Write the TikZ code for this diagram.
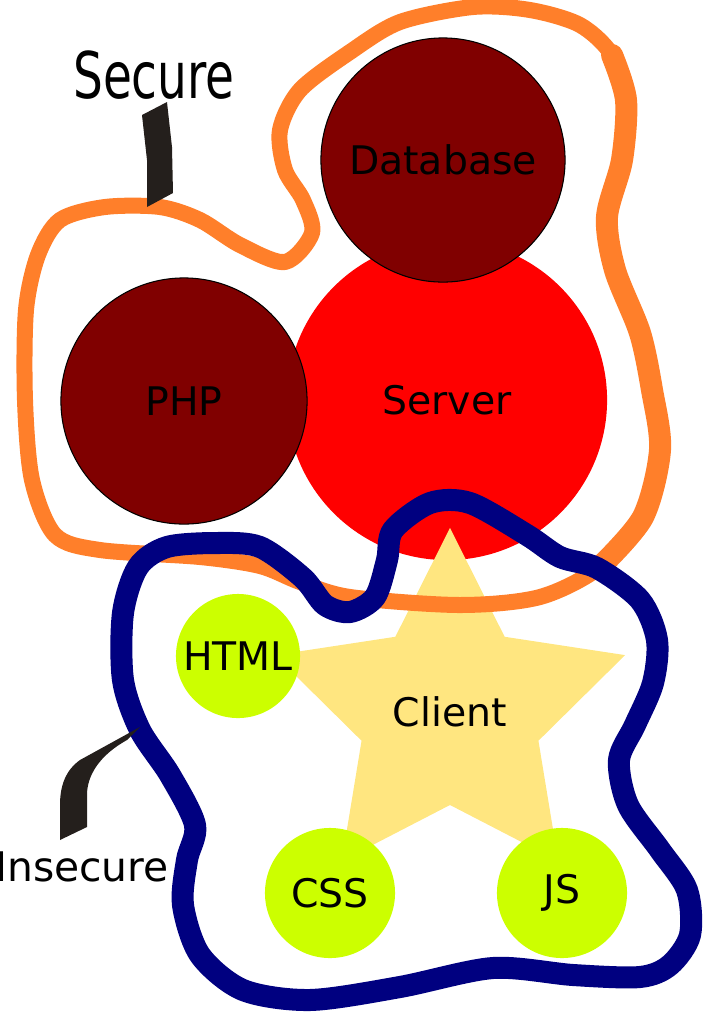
\documentclass[tikz,border=0pt]{standalone}
\usepackage{fontspec}
\setmainfont{DejaVu Sans}
\usepackage{tikz}
\usetikzlibrary{shapes.geometric}
\definecolor{secureorange}{RGB}{255,127,42}
\definecolor{insecureblue}{RGB}{0,0,128}
\definecolor{servered}{RGB}{255,0,0}
\definecolor{backend}{RGB}{128,0,0}
\definecolor{frontend}{RGB}{204,255,0}
\definecolor{clientstar}{RGB}{255,230,128}
\definecolor{pointerink}{RGB}{36,31,28}

\begin{document}
\begin{tikzpicture}[x=0.01cm,y=-0.01cm,
    every node/.style={font=\fontsize{11.2}{13}\selectfont,inner sep=0pt},
    backnode/.style={shape=circle,fill=backend,draw=black,line width=0.3pt,minimum size=2.44cm},
    frontnode/.style={shape=circle,fill=frontend,minimum size=1.3cm},
    securezone/.style={draw=secureorange,line width=0.16cm,line join=round,line cap=round},
    insecurezone/.style={draw=insecureblue,line width=0.22cm,line join=round},
    pointer/.style={fill=pointerink}]
    \useasboundingbox (0,0) rectangle (704,1014);
    \node[shape=circle,fill=servered,minimum size=3.2cm] (server) at (447,400) {Server};
    \node[backnode] (database) at (443,160) {Database};
    \node[backnode,minimum size=2.46cm] (php) at (184,401) {PHP};
    \node[star,star points=5,star point ratio=1.98,minimum size=3.68cm,fill=clientstar] (client) at (450,712) {Client};
    \node[frontnode,minimum size=1.24cm] (html) at (238,656) {HTML};
    \node[frontnode] (css) at (330,893) {CSS};
    \node[frontnode] (js) at (562,893) {JS};
    \path[securezone] plot[smooth cycle] coordinates {(160,207) (105,207) (60,220) (38,255) (26,310) (25,400) (32,480) (55,535) (100,550) (200,557) (260,566) (300,582) (350,597) (460,605) (540,597) (600,567) (643,517) (660,450) (652,390) (640,333) (615,270) (607,217) (622,160) (626,100) (612,55) (580,25) (530,10) (473,7) (400,22) (350,52) (300,90) (280,130) (285,170) (303,200) (312,233) (285,262) (240,245) (200,220)};
    \path[securezone,line width=0.22cm] plot[smooth] coordinates {(600,567) (643,517) (660,450) (652,390) (640,333) (615,270) (607,217) (622,160) (626,100) (612,55)};
    \path[insecurezone] plot[smooth cycle] coordinates {(430,503) (470,503) (527,535) (560,557) (597,568) (640,600) (657,640) (653,683) (635,725) (619,760) (628,805) (660,850) (687,890) (690,935) (670,965) (640,977) (573,975) (493,968) (400,987) (310,1000) (243,990) (200,955) (183,905) (187,860) (195,825) (170,775) (140,730) (123,680) (123,613) (138,567) (167,547) (217,543) (260,547) (303,578) (325,605) (350,612) (375,597) (387,560) (393,530)};
    \path[pointer] (142,115) -- (167,102) -- (172,147) -- (173,193) -- (147,207) -- (147,160) -- cycle;
    \path[pointer] (140,727) -- (80,760) .. controls (66,770) and (60,785) .. (60,805) -- (60,840) -- (87,827) -- (87,795) .. controls (87,775) and (100,755) .. (127,740) -- cycle;
    \node[font=\fontsize{18.3}{20}\selectfont,xscale=0.73] (secure) at (154,75) {Secure};
    \node[font=\fontsize{11.6}{13}\selectfont] (insecure) at (82,867) {Insecure};
\end{tikzpicture}
\end{document}
